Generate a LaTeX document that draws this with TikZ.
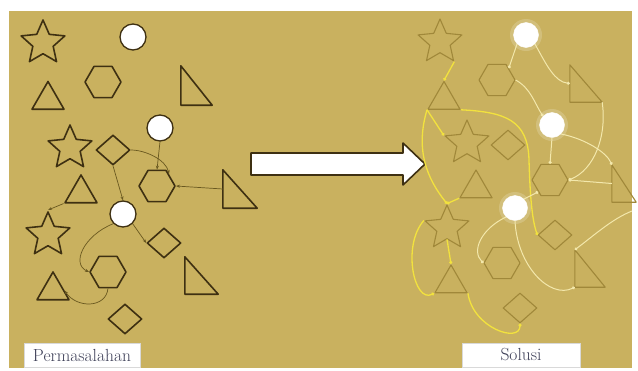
\documentclass[tikz,border=0pt]{standalone}
\usepackage{fontspec}
\usetikzlibrary{shapes.geometric,arrows.meta}
\definecolor{panel}{RGB}{201,177,95}
\definecolor{ink}{RGB}{62,48,18}
\definecolor{linkcol}{RGB}{105,88,32}
\definecolor{faint}{RGB}{160,136,58}
\definecolor{glow}{RGB}{242,226,62}
\definecolor{cream}{RGB}{243,232,172}
\definecolor{labeltext}{RGB}{62,64,88}

\begin{document}
\begin{tikzpicture}[x=1pt, y=-1pt,
    shp/.style={draw=ink, line width=1.6pt, line join=round, inner sep=0pt},
    starshape/.style={shp, star, star points=5, star point ratio=2.15, minimum size=46pt},
    circshape/.style={shp, circle, fill=white, line width=1.3pt, minimum size=26pt},
    hexshape/.style={shp, regular polygon, regular polygon sides=6, minimum size=36pt},
    trishape/.style={shp, regular polygon, regular polygon sides=3, minimum size=37pt},
    diashape/.style={shp, diamond, minimum width=34pt, minimum height=30pt},
    faded/.style={draw=faint, line width=1.1pt},
    glowcirc/.style={circle, fill=white, draw=white, minimum size=25pt, inner sep=0pt},
    wire/.style={draw=linkcol, line width=0.7pt, -{Stealth[length=4pt,width=3pt]}},
    yel/.style={draw=glow, line width=1.3pt, -{Circle[length=3pt]}},
    pale/.style={draw=cream, line width=1pt, -{Circle[length=3pt]}},
    lbl/.style={fill=white, draw=white!85!black, line width=0.4pt, text=labeltext,
      font=\fontsize{17.5}{19}\selectfont, inner sep=0pt, minimum height=24pt}]
  \fill[white] (0,0) rectangle (638,370);
  \useasboundingbox (0,0) rectangle (638,370);
  \fill[panel] (9,11) rectangle (632,368);

  % Permasalahan
  \node[starshape] (star1) at (43,43) {};
  \node[circshape] (circ1) at (133,37) {};
  \node[hexshape] (hex1) at (103,82) {};
  \node[trishape] (tri1) at (48,100) {};
  \node[minimum width=31pt, minimum height=39pt, inner sep=0pt] (rtri1) at (196.5,85.5) {};
  \node[circshape] (circ2) at (160,128) {};
  \node[starshape] (star2) at (70,148) {};
  \node[diashape] (dia1) at (113,150) {};
  \node[hexshape] (hex2) at (157,186) {};
  \node[trishape] (tri2) at (81,193.5) {};
  \node[minimum width=34pt, minimum height=38pt, inner sep=0pt] (rtri2) at (240,189) {};
  \node[circshape] (circ3) at (123,214) {};
  \node[starshape] (star3) at (48,235) {};
  \node[diashape] (dia2) at (164,243) {};
  \node[hexshape] (hex3) at (108,272) {};
  \node[trishape] (tri3) at (53,290.5) {};
  \node[minimum width=33pt, minimum height=37pt, inner sep=0pt] (rtri3) at (201.5,275.5) {};
  \node[diashape] (dia3) at (125,319) {};
  \foreach \n in {rtri1,rtri2,rtri3}
    \draw[ink, line width=1.6pt, line join=round]
      (\n.north west) -- (\n.south west) -- (\n.south east) -- cycle;

  \draw[wire] (dia1.east) .. controls +(15,0) and +(-3,-14) .. (hex2.north east);
  \draw[wire] (circ2.south) -- (hex2.north);
  \draw[wire] (dia1.south) -- (circ3.north);
  \draw[wire] (rtri2.west) -- (hex2.east);
  \draw[wire] (tri2.corner 2) -- (star3.outer point 1);
  \draw[wire] (circ3.south west) .. controls +(-30,12) and +(-18,-8) .. (hex3.west);
  \draw[wire] (hex3.south) .. controls +(-2,20) and +(12,18) .. (tri3.east);
  \draw[wire] (circ3.south east) -- (dia2.west);

  % arrow
  \draw[ink, fill=white, line width=1.6pt, line join=round]
    (251,153) -- (403,153) -- (403,143) -- (425,164) -- (403,185) -- (403,175) -- (251,175) -- cycle;

  % Solusi
  \node[starshape, faded] (star1s) at (440,42) {};
  \node[glowcirc] (circ1s) at (526,35) {};
  \node[hexshape, faded] (hex1s) at (497,80) {};
  \node[trishape, faded] (tri1s) at (444,100) {};
  \node[minimum width=32pt, minimum height=37pt, inner sep=0pt] (rtri1s) at (586,83.5) {};
  \node[glowcirc] (circ2s) at (552,125) {};
  \node[starshape, faded] (star2s) at (467,143) {};
  \node[diashape, faded] (dia1s) at (508,145) {};
  \node[hexshape, faded] (hex2s) at (550,180) {};
  \node[trishape, faded] (tri2s) at (476,188.5) {};
  \node[minimum width=24pt, minimum height=37pt, inner sep=0pt] (rtri2s) at (624,183.5) {};
  \node[glowcirc] (circ3s) at (515,208) {};
  \node[starshape, faded] (star3s) at (447,228) {};
  \node[diashape, faded] (dia2s) at (555,235) {};
  \node[hexshape, faded] (hex3s) at (502,263) {};
  \node[trishape, faded] (tri3s) at (451,283.5) {};
  \node[minimum width=30pt, minimum height=37pt, inner sep=0pt] (rtri3s) at (590,268.5) {};
  \node[diashape, faded] (dia3s) at (520,308) {};
  \foreach \n in {rtri1s,rtri2s,rtri3s}
    \draw[faint, line width=1.1pt, line join=round]
      (\n.north west) -- (\n.south west) -- (\n.south east) -- cycle;
  \foreach \c in {circ1s,circ2s,circ3s}
    \fill[white, opacity=.18] (\c) circle (16pt);

  \draw[yel] (star1s.outer point 4) -- (tri1s.corner 1);
  \draw[yel] (tri1s.corner 2) -- (star2s.outer point 2);
  \draw[yel] (tri1s.corner 2) .. controls +(-12,40) and +(-20,-25) .. (star3s.outer point 1);
  \draw[yel] (tri1s.corner 3) .. controls (505,112) and (528,120) .. (529,160)
    .. controls (530,195) and (532,220) .. (dia2s.west);
  \draw[yel] (tri2s.corner 2) -- (star3s.outer point 1);
  \draw[yel] (star3s.outer point 2) .. controls +(-22,25) and +(-20,10) .. (tri3s.corner 2);
  \draw[yel] (star3s.south) -- (tri3s.corner 1);
  \draw[yel] (tri3s.corner 3) .. controls +(5,35) and +(0,20) .. (dia3s.south);

  \draw[pale] (circ1s.south west) -- (hex1s.north east);
  \draw[pale] (circ1s.south east) .. controls +(12,22) and +(-15,-2) .. (rtri1s.west);
  \draw[pale] (hex1s.east) .. controls +(15,8) and +(-8,-12) .. (circ2s.north west);
  \draw[pale] (rtri1s.south east) .. controls +(5,35) and +(25,-10) .. (hex2s.east);
  \draw[pale] (circ2s.south east) .. controls +(25,5) and +(-5,-12) .. (rtri2s.north west);
  \draw[pale] (rtri2s.west) -- (hex2s.east);
  \draw[pale] (circ2s.south) -- (hex2s.north);
  \draw[pale] (circ3s.north east) -- (hex2s.south west);
  \draw[pale] (circ3s.south west) .. controls +(-25,12) and +(-12,-12) .. (hex3s.west);
  \draw[pale] (circ3s.south) .. controls +(2,45) and +(-25,12) .. (rtri3s.south west);
  \coordinate (rimR) at (632,211);
  \draw[pale, {Circle[length=3pt]}-] (rtri3s.north west) .. controls +(20,-15) and +(-20,8) .. (rimR);

  \node[lbl, minimum width=116pt] (permasalahan) at (82,355) {Permasalahan};
  \node[lbl, minimum width=118pt] (solusi) at (521,355) {Solusi};
\end{tikzpicture}
\end{document}
